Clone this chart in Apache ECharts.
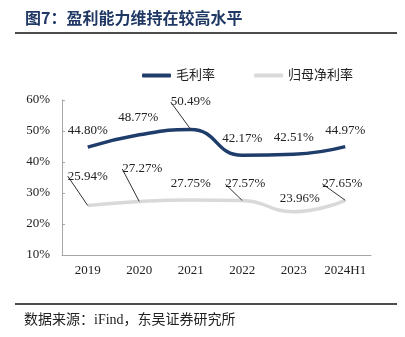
<!DOCTYPE html>
<html><head><meta charset="utf-8">
<script src="https://cdn.jsdelivr.net/npm/echarts@6/dist/echarts.min.js"></script>
<style>html,body{margin:0;padding:0;background:#fff}#c{width:405px;height:337px}</style>
</head><body><div id="c"></div>
<script>
const categories = ['2019','2020','2021','2022','2023','2024H1'];
const grossMargin = [44.80, 48.77, 50.49, 42.17, 42.51, 44.97];
const netMargin = [25.94, 27.27, 27.75, 27.57, 23.96, 27.65];
const yTicks = [10, 20, 30, 40, 50, 60];
// label nudges (dx, dy) per point and whether a leader line is drawn
const grossLabelShift = [[0,0],[-1,-1],[0,-11],[0,0],[0,0],[0,0]];
const grossLeader = [false,false,true,false,false,false];
const netLabelShift = [[0,-13],[3,-16],[0,0],[3,0],[6,3],[-3,0]];
const netLeader = [true,true,false,true,false,true];

const serif = "'Liberation Serif','Noto Sans CJK SC'";
const chart = echarts.init(document.getElementById('c'), null, {renderer:'canvas'});
const lblStyle = {show:true, position:'top', distance:10, fontFamily:serif, fontSize:13, color:'#222',
  formatter: p => p.value.toFixed(2) + '%'};
const mk = (vals, leaders) => vals.map((v, i) => ({value: v, labelLine: {show: leaders[i]}}));
chart.setOption({
  animation:false,
  backgroundColor:'#fff',
  graphic:[
    {type:'text', left:25, top:10, style:{text:'图7：盈利能力维持在较高水平', font:"bold 16px 'Noto Sans CJK SC'", fill:'#1f3864'}},
    {type:'line', shape:{x1:15,y1:33,x2:397,y2:33}, style:{stroke:'#111', lineWidth:1.5}},
    {type:'line', shape:{x1:15,y1:304,x2:397,y2:304}, style:{stroke:'#111', lineWidth:1.5}},
    {type:'text', left:24, top:313, style:{text:'数据来源：iFind，东吴证券研究所', font:"14px " + serif, fill:'#222'}}
  ],
  legend:{left:137, top:64, itemWidth:29, itemHeight:4, itemGap:39, icon:'roundRect',
    textStyle:{fontFamily:serif, fontSize:13, color:'#222'},
    data:['毛利率','归母净利率']},
  grid:{left:62, right:34, top:100, bottom:82},
  xAxis:{type:'category', data:categories, boundaryGap:true,
    axisLine:{lineStyle:{color:'#a6a6a6', width:1}},
    axisTick:{inside:true, length:4, lineStyle:{color:'#a6a6a6'}},
    axisLabel:{interval:0, fontFamily:serif, fontSize:13, color:'#222', margin:9}},
  yAxis:{type:'value', min:yTicks[0], max:yTicks[yTicks.length-1], interval:10,
    splitLine:{show:false},
    axisLine:{show:true, lineStyle:{color:'#a6a6a6', width:1}},
    axisTick:{show:true, inside:true, length:3, lineStyle:{color:'#a6a6a6'}},
    axisLabel:{fontFamily:serif, fontSize:13, color:'#222', margin:12, formatter:'{value}%'}},
  series:[
    {name:'毛利率', type:'line', smooth:0.5, showSymbol:true, symbol:'circle', symbolSize:0,
      data:mk(grossMargin, grossLeader),
      color:'#1f3d6b', itemStyle:{color:'#1f3d6b'}, lineStyle:{color:'#1f3d6b', width:3.5},
      label:lblStyle, labelLine:{lineStyle:{color:'#333', width:1}},
      labelLayout: p => ({dx:grossLabelShift[p.dataIndex][0], dy:grossLabelShift[p.dataIndex][1]})},
    {name:'归母净利率', type:'line', smooth:0.5, showSymbol:true, symbol:'circle', symbolSize:0,
      data:mk(netMargin, netLeader),
      color:'#d9d9d9', itemStyle:{color:'#d9d9d9'}, lineStyle:{color:'#d9d9d9', width:3.5},
      label:lblStyle, labelLine:{lineStyle:{color:'#333', width:1}},
      labelLayout: p => ({dx:netLabelShift[p.dataIndex][0], dy:netLabelShift[p.dataIndex][1]})}
  ]
});
</script></body></html>
